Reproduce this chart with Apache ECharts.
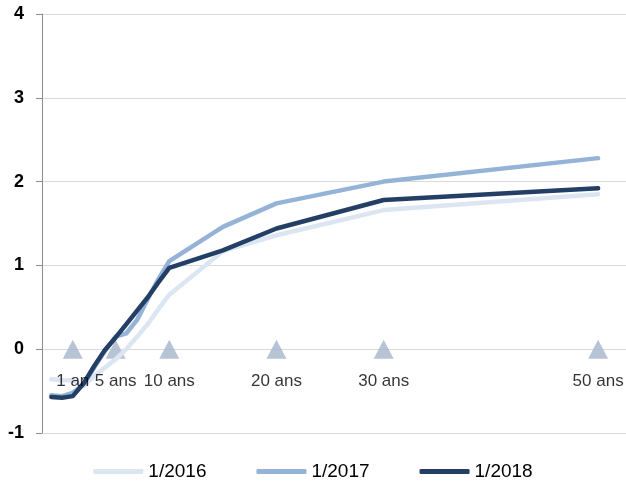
<!DOCTYPE html>
<html>
<head>
<meta charset="utf-8">
<script src="https://cdn.jsdelivr.net/npm/echarts@6/dist/echarts.min.js"></script>
<style>
html,body{margin:0;padding:0;background:#fff;}
#c{width:626px;height:490px;}
</style>
</head>
<body>
<div id="c"></div>
<script>
// Maturities (years) of the curve points
var maturities = [-1, 0, 1, 2, 3, 4, 5, 6, 7, 8, 9, 10, 15, 20, 30, 50];
var y2016 = [-0.36, -0.37, -0.37, -0.44, -0.32, -0.22, -0.12, 0.0, 0.15, 0.30, 0.48, 0.65, 1.17, 1.36, 1.66, 1.85];
var y2017 = [-0.55, -0.56, -0.52, -0.42, -0.22, -0.02, 0.15, 0.19, 0.35, 0.60, 0.84, 1.05, 1.46, 1.74, 2.00, 2.28];
var y2018 = [-0.57, -0.58, -0.56, -0.41, -0.20, -0.01, 0.14, 0.30, 0.46, 0.62, 0.80, 0.97, 1.18, 1.44, 1.78, 1.92];
var seriesNames = ['1/2016', '1/2017', '1/2018'];
// Markers on the zero line
var markerYears = [1, 5, 10, 20, 30, 50];
var markerLabels = ['1 an', '5 ans', '10 ans', '20 ans', '30 ans', '50 ans'];
var yTicks = [-1, 0, 1, 2, 3, 4];

function pairs(vals) {
  return maturities.map(function (m, i) { return [m, vals[i]]; });
}
var colors = ['#DCE6F2', '#95B3D7', '#243F66'];
var font = 'Liberation Sans, Arial, sans-serif';
var markerData = markerYears.map(function (m, i) { return { value: [m, 0], name: markerLabels[i] }; });

var chart = echarts.init(document.getElementById('c'));
chart.setOption({
  animation: false,
  grid: { left: 42, right: 0, top: 14, bottom: 57 },
  xAxis: {
    type: 'value', min: -1.87, max: 52.6,
    show: false
  },
  yAxis: {
    type: 'value', min: yTicks[0], max: yTicks[yTicks.length - 1], interval: 1,
    axisLine: { show: true, onZero: false, lineStyle: { color: '#8C8C8C', width: 1 } },
    axisTick: { show: true, length: 6, lineStyle: { color: '#8C8C8C' } },
    axisLabel: { color: '#000', fontWeight: 'bold', fontSize: 18, fontFamily: font, margin: 18 },
    splitLine: { show: true, lineStyle: { color: '#D9D9D9', width: 1 } }
  },
  legend: {
    bottom: 4, left: 'center',
    data: seriesNames,
    itemWidth: 50, itemHeight: 5, itemGap: 50,
    icon: 'roundRect',
    textStyle: { fontSize: 19, fontFamily: font, color: '#000' }
  },
  series: [
    {
      type: 'scatter', name: 'markers', z: 1,
      symbol: 'triangle', symbolSize: [20, 19],
      itemStyle: { color: '#A5B5CB' },
      data: markerData,
      label: { show: false }
    },
    {
      type: 'line', name: seriesNames[0], z: 3, data: pairs(y2016),
      showSymbol: false, symbol: 'none',
      lineStyle: { color: colors[0], width: 4.5, cap: 'round', join: 'round' },
      itemStyle: { color: colors[0] }
    },
    {
      type: 'line', name: seriesNames[1], z: 4, data: pairs(y2017),
      showSymbol: false, symbol: 'none',
      lineStyle: { color: colors[1], width: 4.5, cap: 'round', join: 'round' },
      itemStyle: { color: colors[1] }
    },
    {
      type: 'line', name: seriesNames[2], z: 5, data: pairs(y2018),
      showSymbol: false, symbol: 'none',
      lineStyle: { color: colors[2], width: 4.5, cap: 'round', join: 'round' },
      itemStyle: { color: colors[2] }
    },
    {
      type: 'scatter', name: 'markerLabels', z: 10,
      symbol: 'triangle', symbolSize: [20, 19],
      itemStyle: { color: 'rgba(0,0,0,0)' },
      data: markerData,
      silent: true,
      label: {
        show: true, position: 'bottom', distance: 14,
        formatter: function (p) { return p.name; },
        color: '#000', fontSize: 17, fontFamily: font
      }
    }
  ]
});
</script>
</body>
</html>
